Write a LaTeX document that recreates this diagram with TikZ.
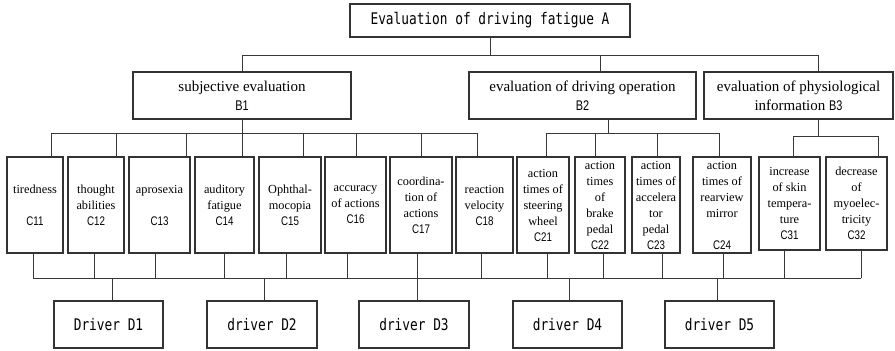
\documentclass[tikz,border=0pt]{standalone}
\usepackage{fontspec}
\setmainfont{Liberation Serif}
\newfontfamily\codefont[FakeStretch=0.8]{DejaVu Sans Mono}
\newfontfamily\tagfont[FakeStretch=0.78]{Liberation Sans}
\newcommand\leaftag[1]{{\tagfont\fontsize{12.5}{16}\selectfont #1}}
\newcommand\midtag[1]{{\tagfont\fontsize{14}{19}\selectfont #1}}

\tikzset{
  ln/.style={draw=black!80, line width=1.1pt},
  wire/.style={draw=black!78, line width=1pt},
  topbox/.style={ln, rectangle, inner sep=0pt, font=\codefont\fontsize{16}{19}\selectfont},
  midbox/.style={ln, rectangle, inner sep=0pt, align=center, minimum height=47pt,
    font=\fontsize{15}{19}\selectfont},
  leafbox/.style={ln, rectangle, inner sep=0pt, align=center, minimum height=96pt,
    font=\fontsize{12.3}{16}\selectfont},
  driverbox/.style={ln, rectangle, inner sep=0pt, minimum height=47pt,
    font=\codefont\fontsize{16}{19}\selectfont},
}

\begin{document}
\begin{tikzpicture}[x=1pt, y=-1pt]
\useasboundingbox (0,0) rectangle (895,351);

% goal
\node[topbox, minimum width=280pt, minimum height=33pt] (A) at (490,20.5) {Evaluation of driving fatigue A};

% criteria
\node[midbox, minimum width=218pt] (B1) at (242,95.5) {subjective evaluation\\\midtag{B1}};
\node[midbox, minimum width=227pt] (B2) at (582.5,95.5) {evaluation of driving operation\\\midtag{B2}};
\node[midbox, minimum width=189pt] (B3) at (798.5,95.5) {evaluation of physiological\\information \midtag{B3}};

% indicators
\node[leafbox, minimum width=56pt] (C11) at (35,205) {tiredness\\[16pt]\leaftag{C11}};
\node[leafbox, minimum width=56pt] (C12) at (96,205) {thought\\abilities\\\leaftag{C12}};
\node[leafbox, minimum width=61pt] (C13) at (159.5,205) {aprosexia\\[16pt]\leaftag{C13}};
\node[leafbox, minimum width=59pt] (C14) at (224.5,205) {auditory\\fatigue\\\leaftag{C14}};
\node[leafbox, minimum width=62pt] (C15) at (290,205) {Ophthal-\\mocopia\\\leaftag{C15}};
\node[leafbox, minimum width=61pt] (C16) at (355.5,205) {accuracy\\of actions\\\leaftag{C16}};
\node[leafbox, minimum width=62pt] (C17) at (421,205) {coordina-\\tion of\\actions\\\leaftag{C17}};
\node[leafbox, minimum width=57pt] (C18) at (484.5,205) {reaction\\velocity\\\leaftag{C18}};
\node[leafbox, minimum width=52pt] (C21) at (543,205) {action\\times of\\steering\\wheel\\\leaftag{C21}};
\node[leafbox, minimum width=50pt] (C22) at (600,205) {action\\times\\of\\brake\\pedal\\\leaftag{C22}};
\node[leafbox, minimum width=48pt] (C23) at (656,205) {action\\times of\\accelera\\tor\\pedal\\\leaftag{C23}};
\node[leafbox, minimum width=58pt] (C24) at (722,205) {action\\times of\\rearview\\mirror\\[16pt]\leaftag{C24}};
\node[leafbox, minimum width=61pt, minimum height=93pt] (C31) at (789.5,203.5) {increase\\of skin\\tempera-\\ture\\\leaftag{C31}};
\node[leafbox, minimum width=61pt, minimum height=93pt] (C32) at (856.5,203.5) {decrease\\of\\myoelec-\\tricity\\\leaftag{C32}};

% alternatives
\node[driverbox, minimum width=109pt] (D1) at (108.5,324.5) {Driver D1};
\node[driverbox, minimum width=110pt] (D2) at (262,324.5) {driver D2};
\node[driverbox, minimum width=110pt] (D3) at (414,324.5) {driver D3};
\node[driverbox, minimum width=109pt] (D4) at (567.5,324.5) {driver D4};
\node[driverbox, minimum width=109pt] (D5) at (719.5,324.5) {driver D5};

% bus levels
\coordinate (ay) at (0,55);
\coordinate (b1y) at (0,133);
\coordinate (b2y) at (0,133);
\coordinate (b3y) at (0,136);
\coordinate (dy) at (0,278);

% goal -> criteria
\draw[wire] (A.south) -- (A.south |- ay);
\draw[wire] (B1.north) |- ([xshift=19.5pt]B3.north |- ay) -- ([xshift=19.5pt]B3.north);
\draw[wire] ([xshift=17.5pt]B2.north) -- ([xshift=17.5pt]B2.north |- ay);

% B1 -> C1x
\draw[wire] (B1.south) -- (B1.south |- b1y);
\draw[wire] ([xshift=16pt]C11.north) |- (B1.south |- b1y);
\draw[wire] ([xshift=20pt]C12.north) |- (B1.south |- b1y);
\draw[wire] ([xshift=26.5pt]C13.north) |- (B1.south |- b1y);
\draw[wire] ([xshift=17.5pt]C14.north) |- (B1.south |- b1y);
\draw[wire] ([xshift=13pt]C15.north) |- (B1.south |- b1y);
\draw[wire] ([xshift=0.5pt]C16.north) |- (B1.south |- b1y);
\draw[wire] (C17.north) |- (B1.south |- b1y);
\draw[wire] ([xshift=-7.5pt]C18.north) |- (B1.south |- b1y);

% B2 -> C2x
\draw[wire] ([xshift=25.5pt]B2.south) -- ([xshift=25.5pt]B2.south |- b2y);
\draw[wire] ([xshift=3pt]C21.north) |- ([xshift=25.5pt]B2.south |- b2y);
\draw[wire] ([xshift=-5pt]C22.north) |- ([xshift=25.5pt]B2.south |- b2y);
\draw[wire] ([xshift=1pt]C23.north) |- ([xshift=25.5pt]B2.south |- b2y);
\draw[wire] ([xshift=-3pt]C24.north) |- ([xshift=25.5pt]B2.south |- b2y);

% B3 -> C3x
\draw[wire] ([xshift=19.5pt]B3.south) -- ([xshift=19.5pt]B3.south |- b3y);
\draw[wire] ([xshift=3.5pt]C31.north) |- ([xshift=19.5pt]B3.south |- b3y);
\draw[wire] ([xshift=21.5pt]C32.north) |- ([xshift=19.5pt]B3.south |- b3y);

% indicators -> drivers
\draw[wire] ([xshift=-2pt]C11.south |- dy) -- ([xshift=4.5pt]C32.south |- dy);
\foreach \c/\s in {C11/-2, C12/-2, C13/-4.5, C14/-0.5, C15/-4, C16/-8.5, C17/-4,
                   C18/-3.5, C21/4, C22/3, C23/6, C24/1, C31/-5.5, C32/4.5}
  \draw[wire] ([xshift=\s pt]\c.south) -- ([xshift=\s pt]\c.south |- dy);
\foreach \d/\s in {D1/3.5, D2/2, D3/3, D4/1.5, D5/-2.5}
  \draw[wire] ([xshift=\s pt]\d.north) -- ([xshift=\s pt]\d.north |- dy);
\end{tikzpicture}
\end{document}
